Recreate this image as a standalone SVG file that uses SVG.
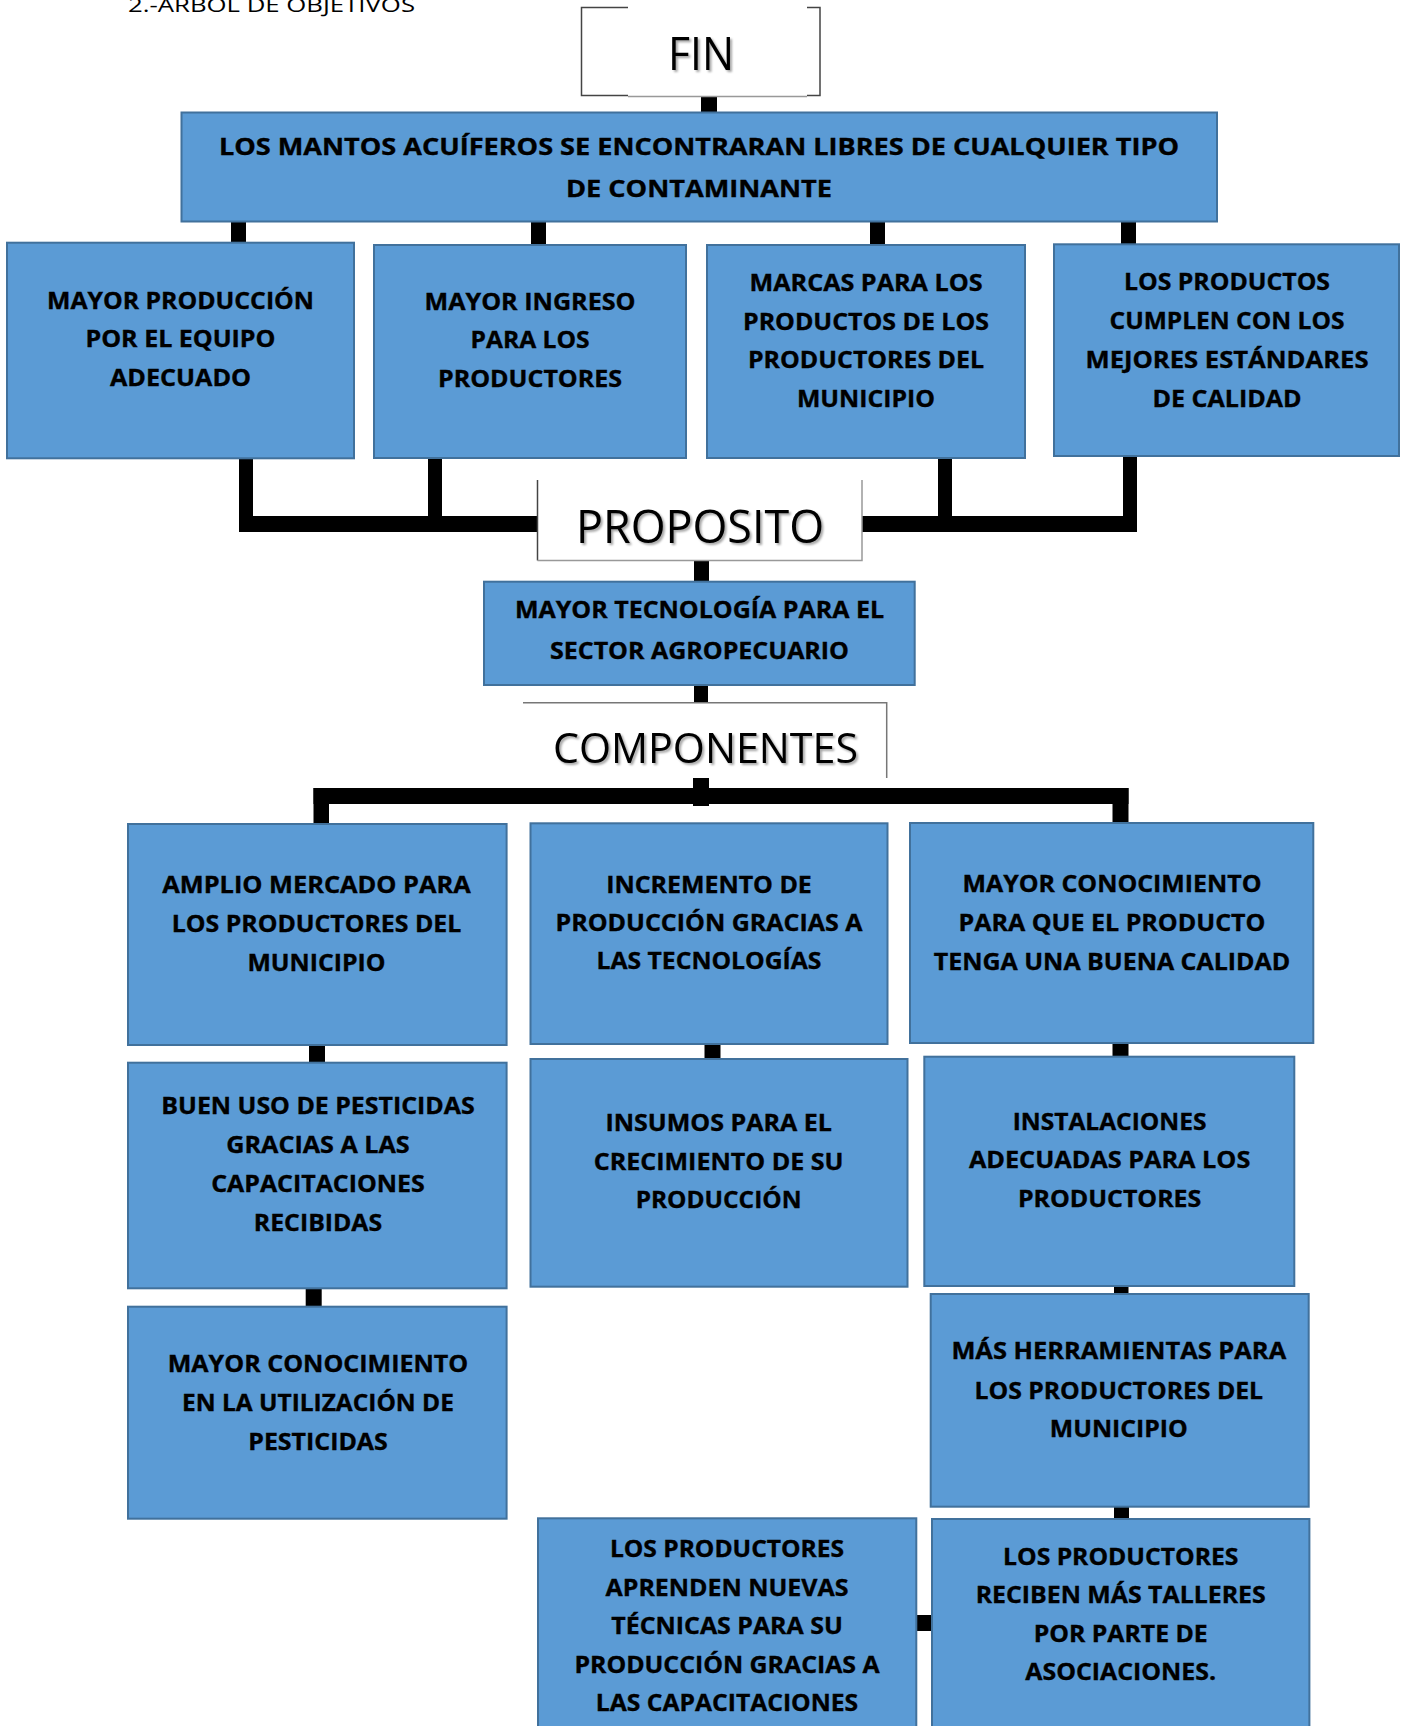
<svg xmlns="http://www.w3.org/2000/svg" width="1403" height="1726" viewBox="0 0 1403 1726">
<defs>
<style>
.box{fill:#5B9BD5;stroke:#41719C;stroke-width:2}
.t{font-family:"Open Sans","Liberation Sans",sans-serif;font-weight:700;font-size:23px;text-anchor:middle;fill:#000;stroke:#000;stroke-width:0.35}
.big{font-family:"Open Sans","Liberation Sans",sans-serif;font-weight:400;text-anchor:middle;fill:#000;filter:url(#sh)}
.c{fill:#000}
.edge{fill:none;stroke:#444;stroke-width:1.5}
.edgel{fill:none;stroke:#999;stroke-width:1.5}
</style>
<filter id="sh" x="-10%" y="-20%" width="130%" height="150%">
<feDropShadow dx="2" dy="2" stdDeviation="1.2" flood-color="#000" flood-opacity="0.35"/>
</filter>
</defs>
<rect width="1403" height="1726" fill="#fff"/>
<text x="128" y="12" font-family="Open Sans, Liberation Sans, sans-serif" font-size="20" textLength="287" lengthAdjust="spacingAndGlyphs">2.-ARBOL DE OBJETIVOS</text>

<g id="connectors">
<rect class="c" x="701" y="96" width="16" height="17"/>
<rect class="c" x="231" y="221" width="15" height="24"/>
<rect class="c" x="531" y="221" width="15" height="24"/>
<rect class="c" x="870" y="221" width="15" height="24"/>
<rect class="c" x="1121" y="221" width="15" height="24"/>
<rect class="c" x="239" y="458" width="14" height="74"/>
<rect class="c" x="428" y="458" width="14" height="58"/>
<rect class="c" x="239" y="516" width="299" height="16"/>
<rect class="c" x="938" y="458" width="14" height="58"/>
<rect class="c" x="1123" y="456" width="14" height="76"/>
<rect class="c" x="862" y="516" width="275" height="16"/>
<rect class="c" x="694" y="560" width="15" height="22"/>
<rect class="c" x="694" y="685" width="14" height="17"/>
<rect class="c" x="693" y="778" width="16" height="28"/>
<rect class="c" x="313.5" y="788" width="815" height="16"/>
<rect class="c" x="313.5" y="788" width="15.5" height="36"/>
<rect class="c" x="1112.5" y="788" width="16" height="35"/>
<rect class="c" x="309" y="1045" width="16" height="18"/>
<rect class="c" x="704.5" y="1044" width="16" height="15"/>
<rect class="c" x="1112.5" y="1043" width="16" height="14"/>
<rect class="c" x="305.7" y="1288" width="16" height="19"/>
<rect class="c" x="1114" y="1286" width="14.5" height="8"/>
<rect class="c" x="1114" y="1506" width="15" height="13"/>
<rect class="c" x="916" y="1615" width="17" height="16"/>
</g>

<g id="fin">
<path class="edge" d="M628 7.5H581.5V95.5H628M807 7.5H820V95.5H807"/>
<path class="edgel" d="M628 96.5H807"/>
<text class="big" x="701" y="70" font-size="46" textLength="66" lengthAdjust="spacingAndGlyphs">FIN</text>
</g>

<g id="n-mantos">
<rect class="box" x="181.5" y="112.5" width="1035.5" height="109"/>
<text class="t" font-size="24" x="699" y="155" textLength="960" lengthAdjust="spacingAndGlyphs">LOS MANTOS ACUÍFEROS SE ENCONTRARAN LIBRES DE CUALQUIER TIPO</text>
<text class="t" font-size="24" x="699" y="196.5" textLength="266" lengthAdjust="spacingAndGlyphs">DE CONTAMINANTE</text>
</g>

<g id="n-b1">
<rect class="box" x="7" y="242.7" width="347" height="215.6"/>
<text class="t" x="180.5" y="308.5" textLength="267" lengthAdjust="spacingAndGlyphs">MAYOR PRODUCCIÓN</text>
<text class="t" x="180.5" y="347" textLength="190" lengthAdjust="spacingAndGlyphs">POR EL EQUIPO</text>
<text class="t" x="180.5" y="386" textLength="141" lengthAdjust="spacingAndGlyphs">ADECUADO</text>
</g>

<g id="n-b2">
<rect class="box" x="374" y="245" width="312" height="213"/>
<text class="t" x="530" y="310" textLength="211" lengthAdjust="spacingAndGlyphs">MAYOR INGRESO</text>
<text class="t" x="530" y="348.3" textLength="119" lengthAdjust="spacingAndGlyphs">PARA LOS</text>
<text class="t" x="530" y="386.7" textLength="184" lengthAdjust="spacingAndGlyphs">PRODUCTORES</text>
</g>

<g id="n-b3">
<rect class="box" x="707" y="245" width="318" height="213"/>
<text class="t" x="866" y="291" textLength="233" lengthAdjust="spacingAndGlyphs">MARCAS PARA LOS</text>
<text class="t" x="866" y="330" textLength="246" lengthAdjust="spacingAndGlyphs">PRODUCTOS DE LOS</text>
<text class="t" x="866" y="368.3" textLength="236" lengthAdjust="spacingAndGlyphs">PRODUCTORES DEL</text>
<text class="t" x="866" y="406.7" textLength="138" lengthAdjust="spacingAndGlyphs">MUNICIPIO</text>
</g>

<g id="n-b4">
<rect class="box" x="1054" y="244.3" width="345" height="211.7"/>
<text class="t" x="1227" y="290" textLength="206" lengthAdjust="spacingAndGlyphs">LOS PRODUCTOS</text>
<text class="t" x="1227" y="329" textLength="235" lengthAdjust="spacingAndGlyphs">CUMPLEN CON LOS</text>
<text class="t" x="1227" y="367.7" textLength="283" lengthAdjust="spacingAndGlyphs">MEJORES ESTÁNDARES</text>
<text class="t" x="1227" y="406.7" textLength="149" lengthAdjust="spacingAndGlyphs">DE CALIDAD</text>
</g>

<g id="proposito">
<path class="edge" d="M537.5 480V560.5"/>
<path class="edgel" d="M537.5 560.5H862V480"/>
<text class="big" x="700" y="543" font-size="46" textLength="248" lengthAdjust="spacingAndGlyphs">PROPOSITO</text>
</g>

<g id="n-tecnologia">
<rect class="box" x="484" y="581.7" width="430.7" height="103.3"/>
<text class="t" x="699.5" y="618.3" textLength="369" lengthAdjust="spacingAndGlyphs">MAYOR TECNOLOGÍA PARA EL</text>
<text class="t" x="699.5" y="659.3" textLength="299" lengthAdjust="spacingAndGlyphs">SECTOR AGROPECUARIO</text>
</g>

<g id="componentes">
<path class="edgel" d="M523 702.7H886.7V778" style="stroke:#777"/>
<text class="big" x="705.5" y="763" font-size="42" textLength="305" lengthAdjust="spacingAndGlyphs">COMPONENTES</text>
</g>

<g id="n-amplio">
<rect class="box" x="128" y="824" width="378.6" height="221"/>
<text class="t" x="316.5" y="892.7" textLength="308.5" lengthAdjust="spacingAndGlyphs">AMPLIO MERCADO PARA</text>
<text class="t" x="316.5" y="931.7" textLength="289.4" lengthAdjust="spacingAndGlyphs">LOS PRODUCTORES DEL</text>
<text class="t" x="316.5" y="970.7" textLength="138" lengthAdjust="spacingAndGlyphs">MUNICIPIO</text>
</g>

<g id="n-incremento">
<rect class="box" x="530.5" y="823.3" width="357" height="220.7"/>
<text class="t" x="709" y="892.7" textLength="205.7" lengthAdjust="spacingAndGlyphs">INCREMENTO DE</text>
<text class="t" x="709" y="931" textLength="307" lengthAdjust="spacingAndGlyphs">PRODUCCIÓN GRACIAS A</text>
<text class="t" x="709" y="969.3" textLength="224.8" lengthAdjust="spacingAndGlyphs">LAS TECNOLOGÍAS</text>
</g>

<g id="n-conocimiento">
<rect class="box" x="910" y="823" width="403.3" height="220"/>
<text class="t" x="1112" y="891.7" textLength="299" lengthAdjust="spacingAndGlyphs">MAYOR CONOCIMIENTO</text>
<text class="t" x="1112" y="930.7" textLength="307" lengthAdjust="spacingAndGlyphs">PARA QUE EL PRODUCTO</text>
<text class="t" x="1112" y="970" textLength="356.3" lengthAdjust="spacingAndGlyphs">TENGA UNA BUENA CALIDAD</text>
</g>

<g id="n-pesticidas">
<rect class="box" x="128" y="1062.7" width="378.6" height="225.6"/>
<text class="t" x="318" y="1114.3" textLength="313.3" lengthAdjust="spacingAndGlyphs">BUEN USO DE PESTICIDAS</text>
<text class="t" x="318" y="1153.3" textLength="183.4" lengthAdjust="spacingAndGlyphs">GRACIAS A LAS</text>
<text class="t" x="318" y="1191.7" textLength="213.6" lengthAdjust="spacingAndGlyphs">CAPACITACIONES</text>
<text class="t" x="318" y="1230.7" textLength="128.3" lengthAdjust="spacingAndGlyphs">RECIBIDAS</text>
</g>

<g id="n-insumos">
<rect class="box" x="530.5" y="1059" width="377" height="227.7"/>
<text class="t" x="718.6" y="1131" textLength="226.4" lengthAdjust="spacingAndGlyphs">INSUMOS PARA EL</text>
<text class="t" x="718.6" y="1170" textLength="249.5" lengthAdjust="spacingAndGlyphs">CRECIMIENTO DE SU</text>
<text class="t" x="718.6" y="1208.3" textLength="165.8" lengthAdjust="spacingAndGlyphs">PRODUCCIÓN</text>
</g>

<g id="n-instalaciones">
<rect class="box" x="924.3" y="1056.7" width="370" height="229.3"/>
<text class="t" x="1109.6" y="1130" textLength="193.7" lengthAdjust="spacingAndGlyphs">INSTALACIONES</text>
<text class="t" x="1109.6" y="1168.3" textLength="281.4" lengthAdjust="spacingAndGlyphs">ADECUADAS PARA LOS</text>
<text class="t" x="1109.6" y="1206.7" textLength="183.4" lengthAdjust="spacingAndGlyphs">PRODUCTORES</text>
</g>

<g id="n-utilizacion">
<rect class="box" x="128" y="1306.7" width="378.6" height="212"/>
<text class="t" x="318" y="1371.7" textLength="300.5" lengthAdjust="spacingAndGlyphs">MAYOR CONOCIMIENTO</text>
<text class="t" x="318" y="1410.7" textLength="271.8" lengthAdjust="spacingAndGlyphs">EN LA UTILIZACIÓN DE</text>
<text class="t" x="318" y="1450" textLength="139.5" lengthAdjust="spacingAndGlyphs">PESTICIDAS</text>
</g>

<g id="n-herramientas">
<rect class="box" x="930.7" y="1294" width="378" height="212.7"/>
<text class="t" x="1118.8" y="1359.3" textLength="334.8" lengthAdjust="spacingAndGlyphs">MÁS HERRAMIENTAS PARA</text>
<text class="t" x="1118.8" y="1399" textLength="288.6" lengthAdjust="spacingAndGlyphs">LOS PRODUCTORES DEL</text>
<text class="t" x="1118.8" y="1436.7" textLength="138" lengthAdjust="spacingAndGlyphs">MUNICIPIO</text>
</g>

<g id="n-aprenden">
<rect class="box" x="538" y="1518.3" width="378.3" height="230"/>
<text class="t" x="727" y="1557" textLength="234.2" lengthAdjust="spacingAndGlyphs">LOS PRODUCTORES</text>
<text class="t" x="727" y="1595.5" textLength="242.9" lengthAdjust="spacingAndGlyphs">APRENDEN NUEVAS</text>
<text class="t" x="727" y="1634" textLength="231.5" lengthAdjust="spacingAndGlyphs">TÉCNICAS PARA SU</text>
<text class="t" x="727" y="1672.5" textLength="305.2" lengthAdjust="spacingAndGlyphs">PRODUCCIÓN GRACIAS A</text>
<text class="t" x="727" y="1711" textLength="262.4" lengthAdjust="spacingAndGlyphs">LAS CAPACITACIONES</text>
</g>

<g id="n-talleres">
<rect class="box" x="932" y="1519" width="377.4" height="230"/>
<text class="t" x="1120.7" y="1564.5" textLength="235.3" lengthAdjust="spacingAndGlyphs">LOS PRODUCTORES</text>
<text class="t" x="1120.7" y="1603" textLength="290" lengthAdjust="spacingAndGlyphs">RECIBEN MÁS TALLERES</text>
<text class="t" x="1120.7" y="1641.5" textLength="174" lengthAdjust="spacingAndGlyphs">POR PARTE DE</text>
<text class="t" x="1120.7" y="1680" textLength="190.8" lengthAdjust="spacingAndGlyphs">ASOCIACIONES.</text>
</g>
</svg>
